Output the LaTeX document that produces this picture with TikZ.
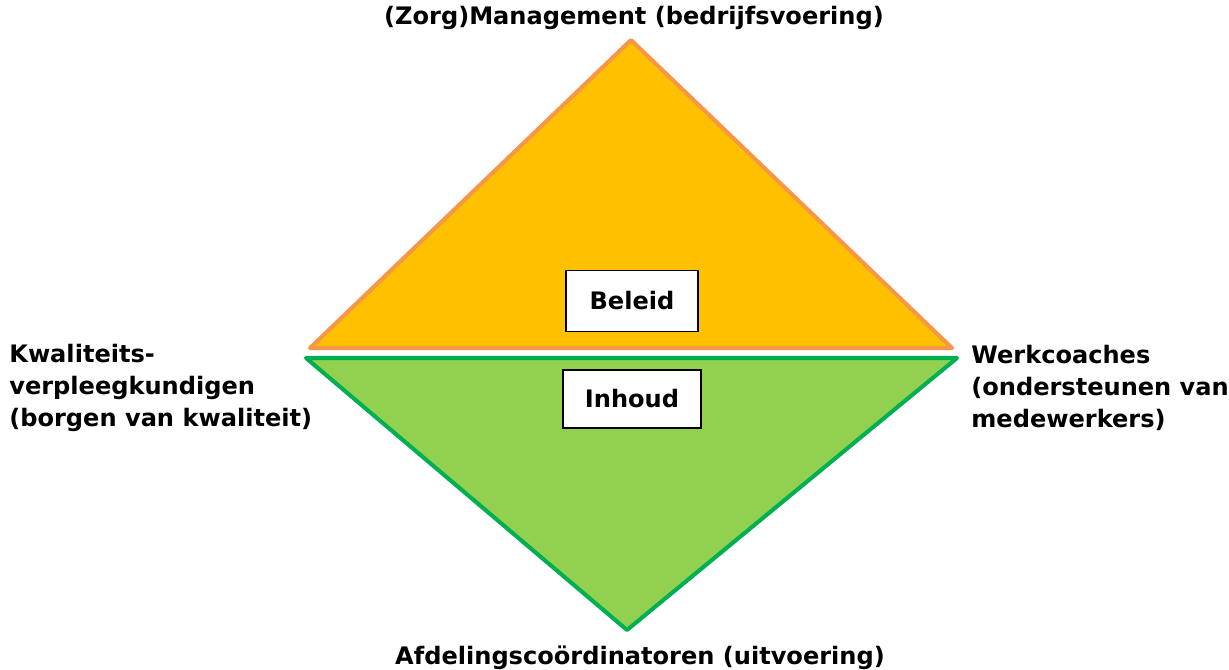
\documentclass[tikz,border=0pt]{standalone}
\usepackage{fontspec}
\setmainfont{DejaVu Sans}
\usepackage{xcolor}
\usetikzlibrary{positioning,calc}
\definecolor{beleidfill}{HTML}{FFC000}
\definecolor{beleidline}{HTML}{F79646}
\definecolor{inhoudfill}{HTML}{92D050}
\definecolor{inhoudline}{HTML}{00B050}
\tikzset{
  lbl/.style    ={font=\fontsize{13.7}{18.2}\selectfont\bfseries,inner sep=0pt},
  kader/.style  ={draw,fill=white,line width=0.7pt,font=\fontsize{13.7}{18.2}\selectfont\bfseries},
  boven/.style  ={fill=beleidfill,draw=beleidline,line width=2.3pt,line join=round},
  onder/.style  ={fill=inhoudfill,draw=inhoudline,line width=2.3pt,line join=round},
}
\begin{document}
\begin{tikzpicture}[x=0.02cm,y=-0.02cm]
  \useasboundingbox (0,0) rectangle (1229,669);
  % corners of both triangles
  \coordinate (tA) at (631,40);
  \coordinate (tL) at (310,348);
  \coordinate (tR) at (952,348);
  \coordinate (bL) at (306,358);
  \coordinate (bR) at (957,358);
  \coordinate (bA) at (627,630);
  \draw[boven] (tA)--(tR)--(tL)--cycle;
  \draw[onder] (bL)--(bR)--(bA)--cycle;
  \node[kader,minimum width=2.64cm,minimum height=1.22cm] (beleid) at (632,301){Beleid};
  \node[kader,minimum width=2.76cm,minimum height=1.16cm] (inhoud) at (632,399){Inhoud};
  \node[lbl] (mgmt) at (634,18){(Zorg)Management (bedrijfsvoering)};
  \node[lbl] (afd) at (640,658){Afdelingscoördinatoren (uitvoering)};
  \node[lbl,align=left,anchor=west] (kwal) at (9,388){Kwaliteits-\\verpleegkundigen\\(borgen van kwaliteit)};
  \node[lbl,align=left,anchor=west] (werk) at (971,388){Werkcoaches\\(ondersteunen van\\medewerkers)};
\end{tikzpicture}
\end{document}
